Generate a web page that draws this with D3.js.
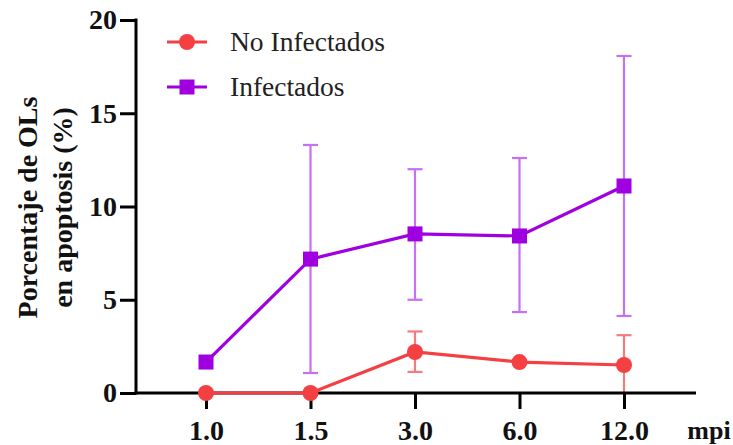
<!DOCTYPE html>
<html>
<head>
<meta charset="utf-8">
<script src="https://cdn.jsdelivr.net/npm/d3@7"></script>
<style>
  body { margin: 0; background: #fff; }
  svg text { font-family: "Liberation Serif", Tinos, "Times New Roman", "DejaVu Serif", "Noto Serif", serif; }
</style>
</head>
<body>
<svg width="733" height="445"></svg>
<script>
const categories = ['1.0', '1.5', '3.0', '6.0', '12.0'];
const yTicks = [0, 5, 10, 15, 20];

// No Infectados
const noInfMean = [0, 0, 2.2, 1.66, 1.5];
const noInfLow  = [0, 0, 1.13, 1.66, 0];
const noInfHigh = [0, 0, 3.3, 1.66, 3.1];

// Infectados
const infMean = [1.66, 7.18, 8.53, 8.42, 11.1];
const infLow  = [1.66, 1.07, 5.0, 4.34, 4.13];
const infHigh = [1.66, 13.3, 12.0, 12.6, 18.07];

const svg = d3.select('svg');
const serif = '"Liberation Serif", Tinos, "Times New Roman", "DejaVu Serif", "Noto Serif", serif';

const x = d3.scalePoint()
    .domain(categories)
    .range([206, 624]);

const y = d3.scaleLinear()
    .domain([0, 20])
    .range([393, 20]);

const red = '#f43f43';
const redLight = '#f47c7c';
const purple = '#a000e0';
const purpleLight = '#c670f2';

// error bars
function errorBars(low, high, color, w) {
    const g = svg.append('g');
    categories.forEach((c, i) => {
        if (high[i] === low[i]) return;
        const cx = x(c);
        g.append('line')
            .attr('x1', cx).attr('x2', cx)
            .attr('y1', y(low[i])).attr('y2', y(high[i]))
            .attr('stroke', color).attr('stroke-width', w);
        [low[i], high[i]].forEach(v => {
            if (v === 0) return;
            g.append('line')
                .attr('x1', cx - 7.5).attr('x2', cx + 7.5)
                .attr('y1', y(v)).attr('y2', y(v))
                .attr('stroke', color).attr('stroke-width', w);
        });
    });
}

errorBars(infLow, infHigh, purpleLight, 2.2);
errorBars(noInfLow, noInfHigh, redLight, 2.2);

const line = d3.line()
    .x((d, i) => x(categories[i]))
    .y(d => y(d));

svg.append('path')
    .datum(infMean)
    .attr('d', line)
    .attr('fill', 'none')
    .attr('stroke', purple)
    .attr('stroke-width', 3.2);

svg.selectAll('rect.inf')
    .data(infMean)
    .join('rect')
    .attr('class', 'inf')
    .attr('x', (d, i) => x(categories[i]) - 7.5)
    .attr('y', d => y(d) - 7.5)
    .attr('width', 15)
    .attr('height', 15)
    .attr('fill', purple);

// axes
const yAxis = svg.append('g')
    .attr('transform', 'translate(136,0)')
    .call(d3.axisLeft(y).tickValues(yTicks).tickSize(16).tickPadding(3));

const xAxis = svg.append('g')
    .attr('transform', 'translate(0,393)')
    .call(d3.axisBottom(x).tickSize(16));

[yAxis, xAxis].forEach(a => {
    a.select('.domain').remove();
    a.selectAll('.tick line').attr('stroke', '#000').attr('stroke-width', 3);
    a.selectAll('.tick text')
        .attr('fill', '#111')
        .style('font-family', serif)
        .style('font-weight', 'bold')
        .style('font-size', '28px');
});
xAxis.selectAll('.tick text').attr('dy', null).attr('y', 47);

svg.append('line')
    .attr('x1', 136).attr('x2', 136)
    .attr('y1', y(20) - 1.5).attr('y2', 394.5)
    .attr('stroke', '#000').attr('stroke-width', 3);
svg.append('line')
    .attr('x1', 134.5).attr('x2', 696)
    .attr('y1', 393).attr('y2', 393)
    .attr('stroke', '#000').attr('stroke-width', 3);

svg.append('path')
    .datum(noInfMean)
    .attr('d', line)
    .attr('fill', 'none')
    .attr('stroke', red)
    .attr('stroke-width', 3.2);

svg.selectAll('circle.noinf')
    .data(noInfMean)
    .join('circle')
    .attr('class', 'noinf')
    .attr('cx', (d, i) => x(categories[i]))
    .attr('cy', d => y(d))
    .attr('r', 8)
    .attr('fill', red);

svg.append('text')
    .attr('x', 709).attr('y', 439)
    .attr('text-anchor', 'middle')
    .style('font-weight', 'bold')
    .style('font-size', '26px')
    .attr('fill', '#111')
    .text('mpi');

// y title
const title = svg.append('text')
    .attr('transform', 'translate(0,207.5) rotate(-90)')
    .attr('text-anchor', 'middle')
    .style('font-weight', 'bold')
    .style('font-size', '28px')
    .attr('fill', '#111');
title.append('tspan').attr('x', 0).attr('y', 37).text('Porcentaje de OLs');
title.append('tspan').attr('x', 0).attr('y', 72).text('en apoptosis (%)');

// legend
const legend = [
    {name: 'No Infectados', color: red, shape: 'circle', yy: 42},
    {name: 'Infectados', color: purple, shape: 'rect', yy: 87}
];
legend.forEach(d => {
    svg.append('line')
        .attr('x1', 167).attr('x2', 207)
        .attr('y1', d.yy).attr('y2', d.yy)
        .attr('stroke', d.color).attr('stroke-width', 3.2);
    if (d.shape === 'circle') {
        svg.append('circle').attr('cx', 187).attr('cy', d.yy).attr('r', 8).attr('fill', d.color);
    } else {
        svg.append('rect').attr('x', 179.5).attr('y', d.yy - 7.5).attr('width', 15).attr('height', 15).attr('fill', d.color);
    }
    svg.append('text')
        .attr('x', 230).attr('y', d.yy + 9)
        .style('font-size', '27.5px')
        .attr('fill', '#222')
        .text(d.name);
});
</script>
</body>
</html>
